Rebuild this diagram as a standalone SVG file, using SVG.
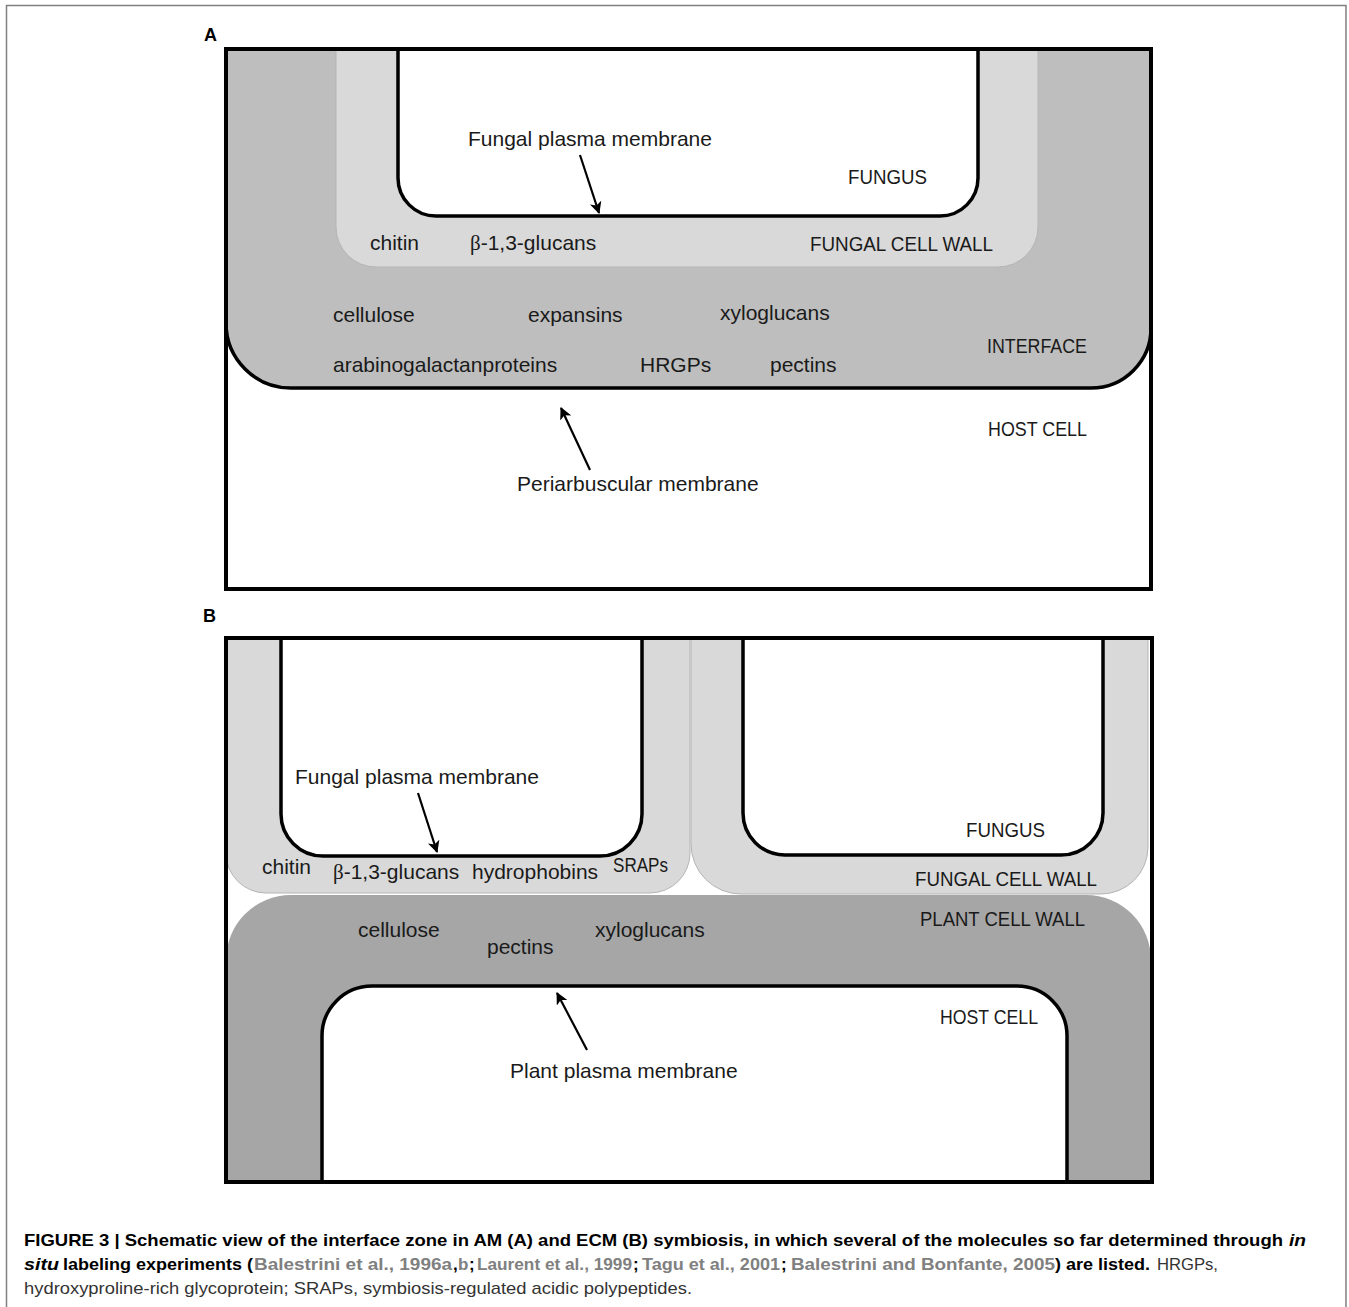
<svg xmlns="http://www.w3.org/2000/svg" width="1349" height="1307" viewBox="0 0 1349 1307">
<defs>
<marker id="ah" markerUnits="userSpaceOnUse" markerWidth="14" markerHeight="12" refX="11" refY="6" orient="auto">
<path d="M0,0 L12,6 L0,12 L3,6 Z" fill="#000"/>
</marker>
<style>
text{font-family:"Liberation Sans",Arial,sans-serif;fill:#1a1a1a}
.lb{font-size:21px}
.pl{font-size:18px;font-weight:bold;fill:#000}
.frame{fill:none;stroke:#000;stroke-width:4}
.mem{stroke:#000;stroke-width:3.5}
.fw{fill:#d9d9d9;stroke:#b5b5b5;stroke-width:1}
.arr{stroke:#000;stroke-width:2.2;fill:none;marker-end:url(#ah)}
.cap{font-size:17px}
.b{font-weight:bold;fill:#000}
.g{font-weight:bold;fill:#808080}
.r{fill:#333}
.it{font-style:italic}
.beta{font-family:"Liberation Serif","Times New Roman",serif}
</style>
</defs>
<rect x="0" y="0" width="1349" height="1307" fill="#fff"/>
<path d="M6.5,1307 V5.5 H1346 V1307" fill="none" stroke="#808080" stroke-width="1.5"/>

<g id="panelA">
<text class="pl" x="204" y="41">A</text>
<g id="A-interface">
<path d="M226,49 H1151 V328 A60,60 0 0 1 1091,388 H291 A65,65 0 0 1 226,323 Z" fill="#bebebe"/>
<path d="M226,323 A65,65 0 0 0 291,388 H1091 A60,60 0 0 0 1151,328" fill="none" class="mem"/>
</g>
<g id="A-fungal-cell-wall">
<path class="fw" d="M336,49 V227 A40,40 0 0 0 376,267 H998 A40,40 0 0 0 1038,227 V49 Z"/>
</g>
<g id="A-fungus">
<path d="M398,49 V178 A38,38 0 0 0 436,216 H940 A38,38 0 0 0 978,178 V49" fill="#fff" class="mem"/>
</g>
<rect id="A-frame" class="frame" x="226" y="49" width="925" height="540"/>
<g id="A-labels">
<text class="lb" x="468" y="146">Fungal plasma membrane</text>
<text class="lb" x="848" y="184" textLength="79" lengthAdjust="spacingAndGlyphs">FUNGUS</text>
<text class="lb" x="370" y="250">chitin</text>
<text class="lb" x="470" y="250"><tspan class="beta">β</tspan>-1,3-glucans</text>
<text class="lb" x="810" y="251" textLength="183" lengthAdjust="spacingAndGlyphs">FUNGAL CELL WALL</text>
<text class="lb" x="333" y="322">cellulose</text>
<text class="lb" x="528" y="322">expansins</text>
<text class="lb" x="720" y="320">xyloglucans</text>
<text class="lb" x="987" y="353" textLength="100" lengthAdjust="spacingAndGlyphs">INTERFACE</text>
<text class="lb" x="333" y="372">arabinogalactanproteins</text>
<text class="lb" x="640" y="372">HRGPs</text>
<text class="lb" x="770" y="372">pectins</text>
<text class="lb" x="988" y="436" textLength="99" lengthAdjust="spacingAndGlyphs">HOST CELL</text>
<text class="lb" x="517" y="491">Periarbuscular membrane</text>
</g>
</g>

<g id="panelB">
<text class="pl" x="203" y="622">B</text>
<g id="B-fungal-cell-wall-left">
<path class="fw" d="M226,638 V853 A40,40 0 0 0 266,893 H650 A40,40 0 0 0 690,853 V638 Z"/>
</g>
<g id="B-fungal-cell-wall-right">
<path class="fw" d="M691,638 V844 A50,50 0 0 0 741,894 H1101 A47,47 0 0 0 1148,847 V638 Z"/>
</g>
<g id="B-fungus-left">
<path d="M281,638 V814 A42,42 0 0 0 323,856 H600 A42,42 0 0 0 642,814 V638" fill="#fff" class="mem"/>
</g>
<g id="B-fungus-right">
<path d="M743,638 V813 A42,42 0 0 0 785,855 H1061 A42,42 0 0 0 1103,813 V638" fill="#fff" class="mem"/>
</g>
<g id="B-plant-cell-wall">
<path d="M226,1182 V960 A65,65 0 0 1 291,895 H1086 A65,65 0 0 1 1151,960 V1182 Z" fill="#a6a6a6"/>
</g>
<g id="B-host-cell">
<path d="M322,1182 V1036 A50,50 0 0 1 372,986 H1017 A50,50 0 0 1 1067,1036 V1182" fill="#fff" class="mem"/>
</g>
<rect id="B-frame" class="frame" x="226" y="638" width="926" height="544"/>
<g id="B-labels">
<text class="lb" x="295" y="784">Fungal plasma membrane</text>
<text class="lb" x="262" y="874">chitin</text>
<text class="lb" x="333" y="879"><tspan class="beta">β</tspan>-1,3-glucans</text>
<text class="lb" x="472" y="879">hydrophobins</text>
<text class="lb" x="613" y="872" textLength="55" lengthAdjust="spacingAndGlyphs">SRAPs</text>
<text class="lb" x="966" y="837" textLength="79" lengthAdjust="spacingAndGlyphs">FUNGUS</text>
<text class="lb" x="915" y="886" textLength="182" lengthAdjust="spacingAndGlyphs">FUNGAL CELL WALL</text>
<text class="lb" x="920" y="926" textLength="165" lengthAdjust="spacingAndGlyphs">PLANT CELL WALL</text>
<text class="lb" x="358" y="937">cellulose</text>
<text class="lb" x="487" y="954">pectins</text>
<text class="lb" x="595" y="937">xyloglucans</text>
<text class="lb" x="940" y="1024" textLength="98" lengthAdjust="spacingAndGlyphs">HOST CELL</text>
<text class="lb" x="510" y="1078">Plant plasma membrane</text>
</g>
</g>

<g id="connectors">
<line class="arr" x1="580" y1="155" x2="599" y2="213"/>
<line class="arr" x1="590" y1="470" x2="561" y2="408"/>
<line class="arr" x1="418" y1="793" x2="437" y2="852"/>
<line class="arr" x1="587" y1="1050" x2="557" y2="993"/>
</g>

<g id="caption">
<text class="cap b" x="24" y="1246" textLength="1259" lengthAdjust="spacingAndGlyphs">FIGURE 3 | Schematic view of the interface zone in AM (A) and ECM (B) symbiosis, in which several of the molecules so far determined through</text>
<text class="cap b it" x="1289" y="1246" textLength="17" lengthAdjust="spacingAndGlyphs">in</text>
<text class="cap b it" x="24" y="1270" textLength="35" lengthAdjust="spacingAndGlyphs">situ</text>
<text class="cap b" x="63" y="1270" textLength="190" lengthAdjust="spacingAndGlyphs">labeling experiments (</text>
<text class="cap g" x="254" y="1270" textLength="198" lengthAdjust="spacingAndGlyphs">Balestrini et al., 1996a</text>
<text class="cap b" x="453" y="1270">,</text>
<text class="cap g" x="458" y="1270">b</text>
<text class="cap b" x="469" y="1270">;</text>
<text class="cap g" x="477" y="1270" textLength="155" lengthAdjust="spacingAndGlyphs">Laurent et al., 1999</text>
<text class="cap b" x="633" y="1270">;</text>
<text class="cap g" x="642" y="1270" textLength="138" lengthAdjust="spacingAndGlyphs">Tagu et al., 2001</text>
<text class="cap b" x="781" y="1270">;</text>
<text class="cap g" x="791" y="1270" textLength="264" lengthAdjust="spacingAndGlyphs">Balestrini and Bonfante, 2005</text>
<text class="cap b" x="1055" y="1270" textLength="95" lengthAdjust="spacingAndGlyphs">) are listed.</text>
<text class="cap r" x="1157" y="1270" textLength="61" lengthAdjust="spacingAndGlyphs">HRGPs,</text>
<text class="cap r" x="24" y="1294" textLength="668" lengthAdjust="spacingAndGlyphs">hydroxyproline-rich glycoprotein; SRAPs, symbiosis-regulated acidic polypeptides.</text>
</g>
</svg>
